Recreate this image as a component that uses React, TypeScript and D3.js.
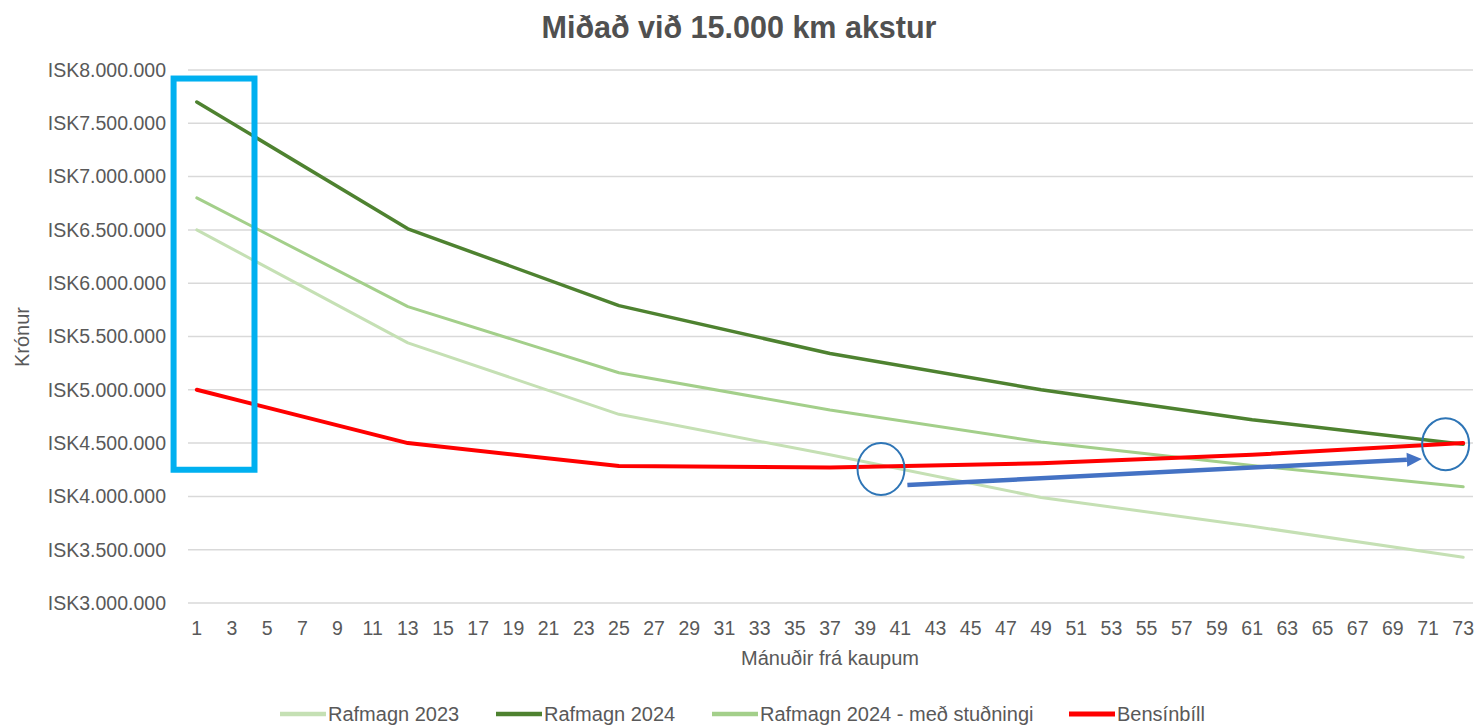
import React from 'react'
import * as d3 from 'd3'

// yearly readings (months from purchase)
const months = [1, 13, 25, 37, 49, 61, 73]
const rafmagn2023 = [6500000, 5440000, 4770000, 4390000, 3990000, 3720000, 3430000]
const rafmagn2024 = [7700000, 6510000, 5790000, 5340000, 5000000, 4720000, 4490000]
const rafmagn2024Studningur = [6800000, 5780000, 5160000, 4810000, 4510000, 4290000, 4090000]
const bensinbill = [5000000, 4500000, 4285000, 4270000, 4310000, 4390000, 4500000]

const xTicks = d3.range(1, 74, 2)
const yTicks = [3000000, 3500000, 4000000, 4500000, 5000000, 5500000, 6000000, 6500000, 7000000, 7500000, 8000000]

const seriesNames = ['Rafmagn 2023', 'Rafmagn 2024', 'Rafmagn 2024 - með stuðningi', 'Bensínbíll']
const seriesValues = [rafmagn2023, rafmagn2024, rafmagn2024Studningur, bensinbill]
const colors = ['#c5e0b4', '#4e8230', '#a3cf8a', '#ff0000']
const widths = [3, 3.5, 3, 4]
const legendX = [280, 496, 712, 1069]

// annotations in data space
const box = { m0: -0.32, m1: 4.28, v0: 4250000, v1: 7920000 }
const circles = [{ m: 39.9, v: 4257000 }, { m: 72.0, v: 4490000 }]
const arrow = { m0: 41.4, v0: 4107000, m1: 70.65, v1: 4351000 }

const W = 1477
const H = 726
const font = 'Liberation Sans, Arial, sans-serif'
const grey = '#595959'

const isk = d3.formatLocale({ decimal: ',', thousands: '.', grouping: [3], currency: ['ISK', ''] }).format('$,')

export default function App() {
  const x = d3.scaleLinear().domain([0.5, 73.5]).range([188, 1472])
  const y = d3.scaleLinear().domain([3000000, 8000000]).range([603, 70])

  const line = d3.line<number>()
    .x((d, i) => x(months[i]))
    .y(d => y(d))

  // arrow geometry
  const ax0 = x(arrow.m0), ay0 = y(arrow.v0)
  const ax1 = x(arrow.m1), ay1 = y(arrow.v1)
  const ang = Math.atan2(ay1 - ay0, ax1 - ax0)
  const headLen = 15, headW = 7
  const bx = ax1 - headLen * Math.cos(ang), by = ay1 - headLen * Math.sin(ang)
  const px = -Math.sin(ang) * headW, py = Math.cos(ang) * headW

  return (
    <svg width={W} height={H} style={{ position: 'absolute', left: 0, top: 0, background: '#fff' }} fontFamily={font}>
      <text x={739} y={38} textAnchor="middle" fontSize={30.5} fontWeight="bold" fill="#505050">
        Miðað við 15.000 km akstur
      </text>

      {yTicks.map(t => (
        <g key={t}>
          <line x1={188} x2={1473} y1={y(t)} y2={y(t)} stroke="#d9d9d9" strokeWidth={1.5} />
          <text x={166} y={y(t)} dy="0.35em" textAnchor="end" fontSize={19.5} fill={grey}>{isk(t)}</text>
        </g>
      ))}

      {xTicks.map(t => (
        <text key={t} x={x(t)} y={635} textAnchor="middle" fontSize={19.5} fill={grey}>{t}</text>
      ))}

      <text x={830} y={665} textAnchor="middle" fontSize={20} fill={grey}>Mánuðir frá kaupum</text>
      <text transform={`translate(29,337) rotate(-90)`} textAnchor="middle" fontSize={20} fill={grey}>Krónur</text>

      {seriesValues.map((vals, i) => (
        <path key={i} d={line(vals) || ''} fill="none" stroke={colors[i]} strokeWidth={widths[i]}
          strokeLinejoin="round" strokeLinecap="round" />
      ))}

      <rect x={x(box.m0)} y={y(box.v1)} width={x(box.m1) - x(box.m0)} height={y(box.v0) - y(box.v1)}
        fill="none" stroke="#00b0f0" strokeWidth={6} />
      {circles.map((c, i) => (
        <ellipse key={i} cx={x(c.m)} cy={y(c.v)} rx={23.5} ry={26} fill="none" stroke="#2e75b6" strokeWidth={2} />
      ))}
      <line x1={ax0} y1={ay0} x2={bx} y2={by} stroke="#4472c4" strokeWidth={4.5} />
      <path d={`M${ax1},${ay1}L${bx + px},${by + py}L${bx - px},${by - py}Z`} fill="#4472c4" />

      {seriesNames.map((n, i) => (
        <g key={n} transform={`translate(${legendX[i]},714)`}>
          <line x1={0} x2={46} y1={0} y2={0} stroke={colors[i]} strokeWidth={i === 3 ? 5 : 4.5} />
          <text x={48} y={0} dy="0.35em" fontSize={20} fill={grey}>{n}</text>
        </g>
      ))}
    </svg>
  )
}
